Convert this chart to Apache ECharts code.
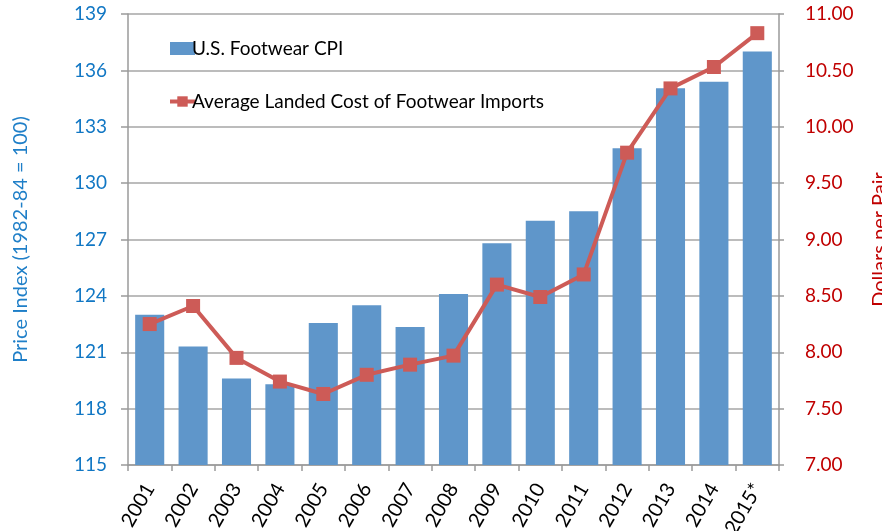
<!DOCTYPE html>
<html>
<head>
<meta charset="utf-8">
<script src="https://cdn.jsdelivr.net/npm/echarts@6/dist/echarts.min.js"></script>
<style>
html,body{margin:0;padding:0;background:#fff;}
#chart{width:882px;height:531px;}
</style>
</head>
<body>
<div id="chart"></div>
<script>
const years = ['2001','2002','2003','2004','2005','2006','2007','2008','2009','2010','2011','2012','2013','2014','2015*'];
const cpi = [123.0, 121.3, 119.6, 119.3, 122.55, 123.5, 122.35, 124.1, 126.8, 128.0, 128.5, 131.85, 135.05, 135.4, 137.0];
const landedCost = [8.25, 8.41, 7.95, 7.74, 7.63, 7.80, 7.89, 7.97, 8.60, 8.49, 8.69, 9.77, 10.34, 10.53, 10.83];
const leftTicks = [115, 139, 3];
const rightTicks = [7, 11, 0.5];

const FONT = 'Lato, "Open Sans", sans-serif';
const chart = echarts.init(document.getElementById('chart'), null, {renderer: 'canvas'});
chart.setOption({
  animation: false,
  backgroundColor: '#ffffff',
  grid: {left: 128, right: 103, top: 14, bottom: 66, containLabel: false, outerBoundsMode: 'none'},
  legend: {
    orient: 'vertical',
    left: 163, top: 34,
    itemGap: 34,
    itemWidth: 25, itemHeight: 13,
    textStyle: {fontFamily: FONT, fontSize: 19, color: '#000', padding: [0,0,0,-8]},
    data: [
      {name: 'U.S. Footwear CPI', icon: 'rect'},
      {name: 'Average Landed Cost of Footwear Imports', lineStyle: {width: 4, color: '#CD5B57'}}
    ]
  },
  xAxis: {
    type: 'category',
    data: years,
    axisLine: {lineStyle: {color: '#9a9a9a', width: 1.5}},
    axisTick: {show: true, alignWithLabel: false, length: 6, lineStyle: {color: '#9a9a9a', width: 1.5}},
    axisLabel: {rotate: 60, margin: 20, fontFamily: FONT, fontSize: 20, color: '#000'}
  },
  yAxis: [
    {
      type: 'value', min: leftTicks[0], max: leftTicks[1], interval: leftTicks[2],
      position: 'left',
      name: 'Price Index (1982-84 = 100)',
      nameLocation: 'middle', nameGap: 97,
      nameTextStyle: {fontFamily: FONT, fontSize: 20, color: '#1F7FC8'},
      axisLine: {show: true, lineStyle: {color: '#9a9a9a', width: 1.5}},
      axisTick: {show: true, length: 7, lineStyle: {color: '#9a9a9a', width: 1.5}},
      axisLabel: {margin: 21, fontFamily: FONT, fontSize: 19, color: '#1177C4'},
      splitLine: {show: true, lineStyle: {color: '#a6a6a6', width: 1.5}}
    },
    {
      type: 'value', min: rightTicks[0], max: rightTicks[1], interval: rightTicks[2],
      position: 'right',
      name: 'Dollars per Pair',
      nameLocation: 'middle', nameGap: 91,
      nameTextStyle: {fontFamily: FONT, fontSize: 20, color: '#C00000'},
      axisLine: {show: true, lineStyle: {color: '#9a9a9a', width: 1.5}},
      axisTick: {show: true, length: 5, lineStyle: {color: '#9a9a9a', width: 1.5}},
      axisLabel: {margin: 26, fontFamily: FONT, fontSize: 19, color: '#C00000',
        formatter: v => v.toFixed(2)},
      splitLine: {show: false}
    }
  ],
  series: [
    {
      name: 'U.S. Footwear CPI',
      type: 'bar',
      yAxisIndex: 0,
      data: cpi,
      barCategoryGap: '33%',
      itemStyle: {color: '#5F96CA'}
    },
    {
      name: 'Average Landed Cost of Footwear Imports',
      type: 'line',
      yAxisIndex: 1,
      data: landedCost,
      symbol: 'rect',
      symbolSize: 14,
      lineStyle: {color: '#CD5B57', width: 4},
      itemStyle: {color: '#CD5B57'}
    }
  ]
});
</script>
</body>
</html>
